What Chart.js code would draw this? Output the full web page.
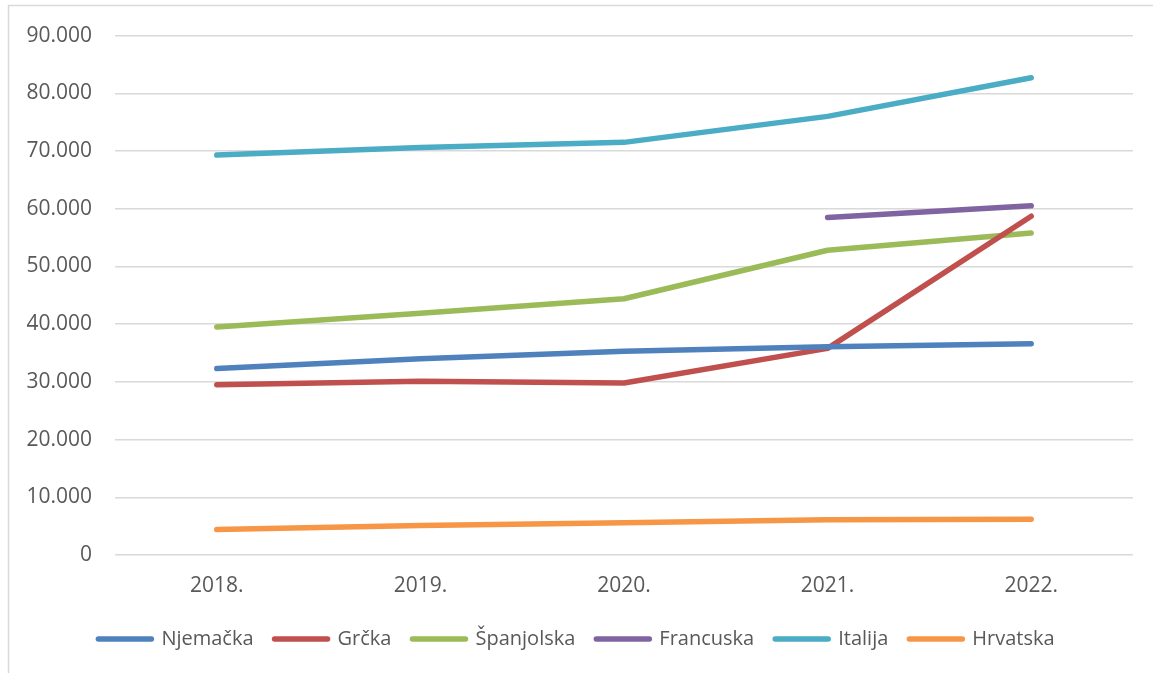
<!DOCTYPE html>
<html>
<head>
<meta charset="utf-8">
<script src="https://cdn.jsdelivr.net/npm/chart.js@4/dist/chart.umd.min.js"></script>
<style>
  html, body { margin: 0; padding: 0; background: #ffffff; }
  #wrap { position: relative; width: 1153px; height: 673px; }
  canvas { display: block; }
</style>
</head>
<body>
<div id="wrap"><canvas id="c" width="1153" height="673"></canvas></div>
<script>
const categories = ['2018.', '2019.', '2020.', '2021.', '2022.'];
const njemacka   = [32300, 34000, 35300, 36100, 36600];
const grcka      = [29500, 30100, 29800, 35800, 58700];
const spanjolska = [39500, 41900, 44400, 52800, 55800];
const francuska  = [null, null, null, 58500, 60500];
const italija    = [69300, 70600, 71500, 76000, 82700];
const hrvatska   = [4400, 5100, 5600, 6100, 6200];
const seriesNames = ['Njemačka', 'Grčka', 'Španjolska', 'Francuska', 'Italija', 'Hrvatska'];
const seriesColors = ['#4F81BD', '#C0504D', '#9BBB59', '#8064A2', '#4BACC6', '#F79646'];
const seriesData = [njemacka, grcka, spanjolska, francuska, italija, hrvatska];

function fmt(v) {
  return String(Math.round(v)).replace(/\B(?=(\d{3})+(?!\d))/g, '.');
}

const frame = {
  id: 'frame',
  afterLayout(chart) {
    if (chart.legend) {
      chart.legend.left = 0;
      chart.legend.right = chart.width;
      chart.legend.width = chart.width;
    }
  },
  beforeDraw(chart) {
    const ctx = chart.ctx;
    ctx.save();
    ctx.strokeStyle = '#d9d9d9';
    ctx.lineWidth = 1.5;
    ctx.beginPath();
    ctx.moveTo(8.5, 673);
    ctx.lineTo(8.5, 5.5);
    ctx.lineTo(1153, 5.5);
    ctx.stroke();
    ctx.restore();
  }
};

const datasets = seriesNames.map((name, i) => ({
  label: name,
  data: seriesData[i],
  borderColor: seriesColors[i],
  backgroundColor: seriesColors[i],
  borderWidth: 5.5,
  pointRadius: 0,
  pointHoverRadius: 0,
  tension: 0,
  borderCapStyle: 'round',
  borderJoinStyle: 'round',
  spanGaps: false,
  fill: false
}));

new Chart(document.getElementById('c'), {
  type: 'line',
  data: { labels: categories, datasets },
  options: {
    responsive: false,
    animation: false,
    events: [],
    layout: { padding: { left: 0, right: 20, top: 34, bottom: 14 } },
    plugins: {
      tooltip: { enabled: false },
      legend: {
        position: 'bottom',
        labels: {
          usePointStyle: true,
          pointStyle: 'line',
          pointStyleWidth: 53,
          color: '#595959',
          font: { family: "'Open Sans', sans-serif", size: 20 },
          padding: 21,
          generateLabels(chart) {
            return chart.data.datasets.map((ds, i) => ({
              text: ds.label,
              fillStyle: ds.borderColor,
              strokeStyle: ds.borderColor,
              lineWidth: 5.5,
              lineCap: 'round',
              pointStyle: 'line',
              hidden: false,
              datasetIndex: i,
              fontColor: '#595959'
            }));
          }
        }
      }
    },
    scales: {
      x: {
        type: 'category',
        offset: true,
        grid: { display: false, drawTicks: false },
        border: { display: false },
        ticks: {
          color: '#595959',
          font: { family: "'Open Sans', sans-serif", size: 21 },
          padding: 18,
          maxRotation: 0
        },
        afterFit(scale) { scale.height = 53; }
      },
      y: {
        min: 0,
        max: 90000,
        grid: { color: '#d9d9d9', lineWidth: 1.5, drawTicks: false },
        border: { display: false },
        ticks: {
          stepSize: 10000,
          color: '#595959',
          font: { family: "'Open Sans', sans-serif", size: 21 },
          padding: 23,
          callback: (v) => fmt(v)
        },
        afterFit(scale) { scale.width = 115; }
      }
    }
  },
  plugins: [frame]
});
</script>
</body>
</html>
